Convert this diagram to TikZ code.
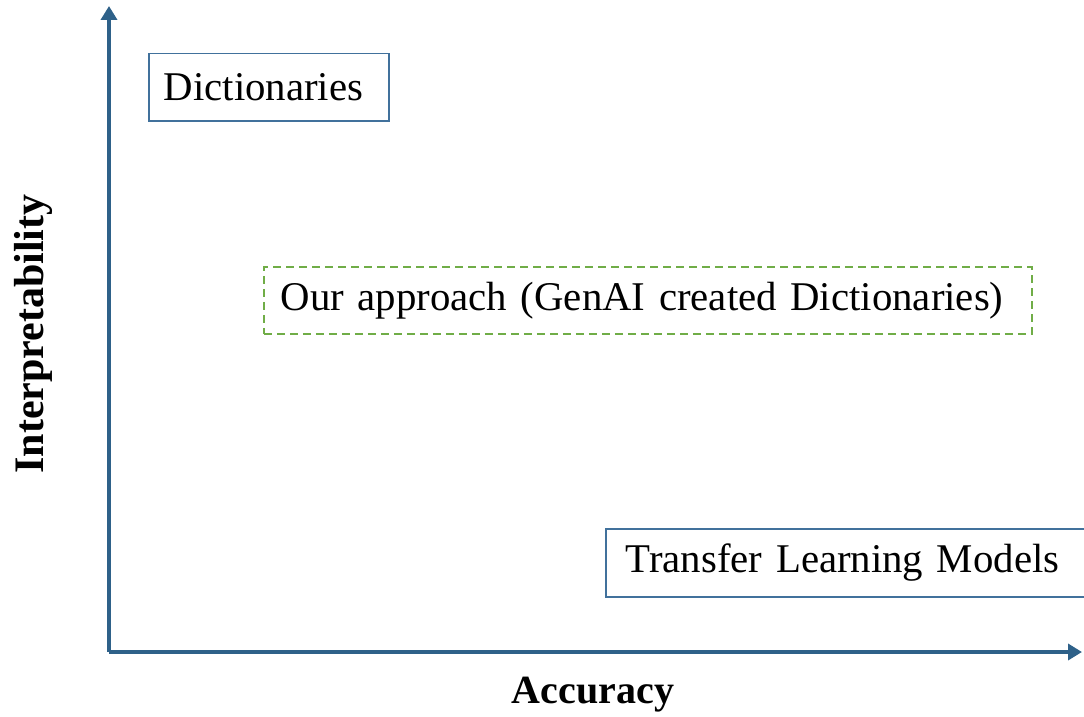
\documentclass[tikz,border=0pt]{standalone}
\usepackage{fontspec}
\setmainfont{Liberation Serif}
\usetikzlibrary{arrows.meta}
\definecolor{axisblue}{HTML}{2E6189}
\definecolor{boxblue}{HTML}{41719C}
\definecolor{dashgreen}{HTML}{70AD47}
\hyphenpenalty=10000
\begin{document}
\begin{tikzpicture}[x=1pt,y=-1pt,
  axis/.style={line width=4pt,draw=axisblue,-{Triangle[length=14pt,width=16pt]}},
  axislabel/.style={font=\fontsize{40}{48}\selectfont\bfseries},
  region/.style={draw=boxblue,line width=1.5pt,anchor=north west,align=left,
    inner ysep=0pt,font=\fontsize{40.8}{49}\selectfont},
  ourbox/.style={region,draw=dashgreen,dash pattern=on 8pt off 5pt}]
  \useasboundingbox (0,0) rectangle (1084,717);
  % axes
  \coordinate (O) at (109,652);
  \coordinate (ytip) at (109,6);
  \coordinate (xtip) at (1082,652);
  \draw[axis] (O) -- (ytip);
  \draw[axis] (O) -- (xtip);
  % axis titles
  \node[axislabel] (xlab) at (593,695) {Accuracy};
  \node[axislabel,font=\fontsize{42}{50}\selectfont\bfseries,rotate=90] (ylab) at (33,334) {Interpretability};
  % regions of the plane
  \node[region,inner xsep=15pt,text width=210pt,minimum height=67pt] (dict) at (148,53) {Dictionaries};
  \node[ourbox,inner xsep=17pt,text width=734pt,minimum height=67pt] (ours) at (263,266) {Our approach (GenAI created Dictionaries)};
  \node[region,inner xsep=20pt,text width=480pt,minimum height=68pt] (tl) at (605,528) {Transfer Learning Models};
\end{tikzpicture}
\end{document}
